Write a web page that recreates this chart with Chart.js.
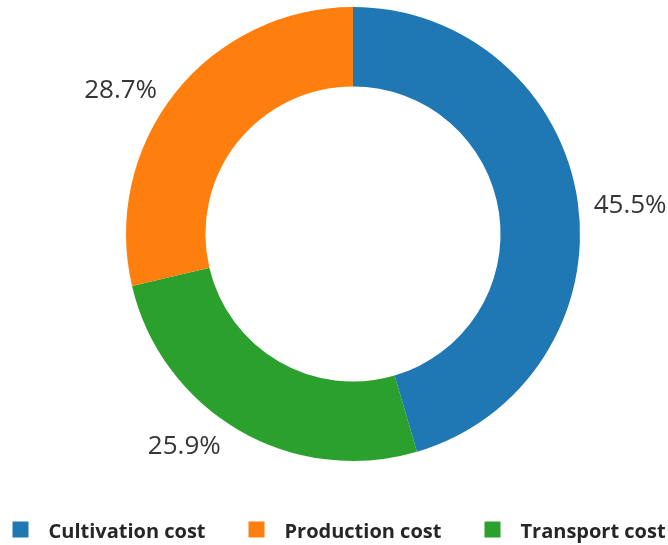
<!DOCTYPE html>
<html>
<head>
<meta charset="utf-8">
<title>Cost breakdown</title>
<script src="https://cdn.jsdelivr.net/npm/chart.js@4"></script>
<style>
  html, body { margin: 0; padding: 0; background: #ffffff; }
  #wrap { width: 668px; height: 545px; }
</style>
</head>
<body>
<div id="wrap"><canvas id="chart" width="668" height="545"></canvas></div>
<script>
// Cost categories in legend order, with their share of total cost (%)
const categories = ['Cultivation cost', 'Production cost', 'Transport cost'];
const shares = [45.5, 28.7, 25.9];
const colors = ['#1f77b4', '#ff7f0e', '#2ca02c'];
// Clockwise order of the slices around the ring, starting at 12 o'clock
const ringOrder = [0, 2, 1];

const ringLabels = ringOrder.map(i => categories[i]);
const ringValues = ringOrder.map(i => shares[i]);
const ringColors = ringOrder.map(i => colors[i]);

// Percentage labels placed just outside each slice
const outsideLabels = {
  id: 'outsideLabels',
  afterDatasetsDraw(chart) {
    const ctx = chart.ctx;
    const meta = chart.getDatasetMeta(0);
    ctx.save();
    ctx.font = '26px "Open Sans"';
    ctx.fillStyle = '#363636';
    ctx.textBaseline = 'alphabetic';
    meta.data.forEach((arc, i) => {
      const p = arc.getProps(['x', 'y', 'startAngle', 'endAngle', 'outerRadius'], true);
      const mid = (p.startAngle + p.endAngle) / 2;
      const dx = Math.cos(mid), dy = Math.sin(mid);
      const ox = p.x + p.outerRadius * dx;
      const oy = p.y + p.outerRadius * dy;
      const right = dx >= 0;
      ctx.textAlign = right ? 'left' : 'right';
      const tx = ox + (right ? 16 : -18);
      const ty = oy + 13 * dy + 13;
      ctx.fillText(ringValues[i].toFixed(1) + '%', tx, ty);
    });
    ctx.restore();
  }
};

// Horizontal legend along the bottom edge, one entry every 236 px
const bottomLegend = {
  id: 'bottomLegend',
  afterDraw(chart) {
    const ctx = chart.ctx;
    ctx.save();
    ctx.font = 'bold 20px "Open Sans"';
    ctx.textAlign = 'left';
    ctx.textBaseline = 'alphabetic';
    const box = 16, gap = 20, pitch = 236, startX = 12.5;
    const boxTop = 521.5, baseline = 537.5;
    categories.forEach((name, i) => {
      const x = startX + i * pitch;
      ctx.fillStyle = colors[i];
      ctx.fillRect(x, boxTop, box, box);
      ctx.fillStyle = '#262626';
      ctx.fillText(name, x + box + gap, baseline);
    });
    ctx.restore();
  }
};

new Chart(document.getElementById('chart'), {
  type: 'doughnut',
  data: {
    labels: ringLabels,
    datasets: [{
      data: ringValues,
      backgroundColor: ringColors,
      borderWidth: 0,
      hoverOffset: 0
    }]
  },
  options: {
    responsive: false,
    animation: false,
    cutout: '65%',
    layout: { padding: { left: 38, right: 0, top: 7, bottom: 84 } },
    plugins: {
      legend: { display: false },
      tooltip: { enabled: false }
    },
    events: []
  },
  plugins: [outsideLabels, bottomLegend]
});
</script>
</body>
</html>
